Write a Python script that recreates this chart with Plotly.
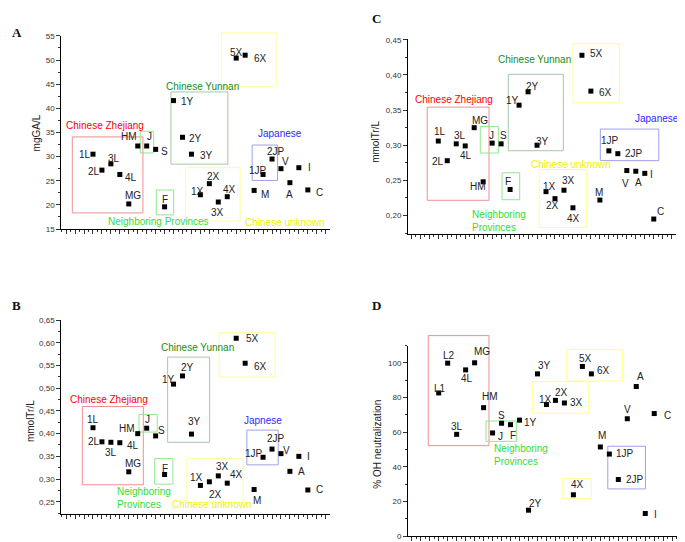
import plotly.graph_objects as go

# ---------------- data ----------------
samples = ["1L", "2L", "3L", "4L", "MG", "HM", "J", "S", "F", "1Y", "2Y", "3Y",
           "1X", "2X", "3X", "4X", "5X", "6X", "M", "1JP", "2JP", "V", "A", "I", "C"]
samples_d = ["L1", "L2", "3L", "4L", "MG", "HM", "J", "S", "F", "1Y", "2Y", "3Y",
             "1X", "2X", "3X", "4X", "5X", "6X", "M", "1JP", "2JP", "V", "A", "I", "C"]

gallic_mg = [30.5, 27.2, 28.5, 26.3, 20.2, 32.2, 32.2, 31.5, 19.6, 41.6, 34.0, 30.5,
             22.1, 24.4, 20.6, 21.7, 50.4, 51.0, 23.0, 26.3, 29.5, 27.5, 24.6, 27.7, 23.1]
trolox_b = [0.413, 0.382, 0.381, 0.380, 0.316, 0.400, 0.412, 0.395, 0.310, 0.509, 0.527, 0.399,
            0.286, 0.294, 0.307, 0.291, 0.610, 0.555, 0.277, 0.348, 0.366, 0.356, 0.317, 0.350, 0.276]
trolox_c = [0.306, 0.278, 0.302, 0.299, 0.325, 0.248, 0.303, 0.302, 0.237, 0.357, 0.376, 0.300,
            0.234, 0.224, 0.236, 0.211, 0.428, 0.377, 0.222, 0.292, 0.288, 0.264, 0.263, 0.260, 0.195]
oh_neutral = [82.7, 99.9, 58.8, 96.0, 100.1, 74.2, 59.6, 65.2, 64.4, 67.0, 15.0, 93.7,
              76.0, 78.4, 76.9, 23.9, 98.0, 93.7, 51.5, 47.4, 32.7, 67.8, 86.4, 13.1, 70.8]

idx = list(range(1, len(samples) + 1))

# ---------------- styling ----------------
FONT = "Liberation Sans, Arial, sans-serif"
C_RED, C_DKGREEN, C_GREEN, C_YELLOW, C_BLUE = "#ff0000", "#1a8a1a", "#33dd33", "#f2f200", "#2a2aff"
B_RED, B_DKGREEN, B_GREEN, B_YELLOW, B_BLUE = "#f09090", "#a6c8a6", "#90e890", "#ffff90", "#a0a0ea"

# panel: axes suffix, x domain, y domain, x range, y range, dtick, minor, format
panels = {
    "A": dict(ax="", xd=[0.0778, 0.4701], yd=[0.5928, 0.9552], xr=[-2.54, 27.48], yr=[15, 55],
              dt=5, mdt=2.5, fmt="d", vals=gallic_mg, names=samples),
    "C": dict(ax="2", xd=[0.5839, 0.9752], yd=[0.5836, 0.9502], xr=[-2.376, 27.48], yr=[0.1738, 0.4518],
              dt=0.05, mdt=0.025, fmt=".2f", vals=trolox_c, names=samples),
    "B": dict(ax="3", xd=[0.0778, 0.4701], yd=[0.0585, 0.4220], xr=[-2.54, 27.48], yr=[0.2235, 0.65],
              dt=0.05, mdt=0.025, fmt=".2f", vals=trolox_b, names=samples),
    "D": dict(ax="4", xd=[0.5839, 0.9762], yd=[0.0166, 0.3740], xr=[-2.42, 27.5], yr=[0, 110],
              dt=20, mdt=10, fmt="d", vals=oh_neutral, names=samples_d),
}

# label offsets (px right, px down) of each point label
offsets = {
    "A": [(-7.5, 0), (-8, 1), (3, -5.5), (11, 3), (4.7, -8.4), (-9, -9.4), (2.6, -9), (9, 2),
          (0.7, -7.4), (13.7, 1.4), (13.3, 1), (15, 1.7), (-3, -3.3), (3.7, -6.7), (-1, 10.7),
          (2.7, -7.3), (0.7, -6), (15.7, 3), (11, 4.3), (-4.7, -4), (3.7, -8), (4.7, -7),
          (0, 12), (11, 0), (11.7, 2.7)],
    "C": [(1.4, -9.3), (-9.4, 0.7), (3.3, -8), (0.6, 9.3), (5.4, -7), (-5.3, 4.7), (-1, -8),
          (2.6, -8.4), (-2.4, -7.7), (-6.4, -4.4), (4, -5), (5, -4), (3.4, -5.3), (-2.6, 7),
          (4.7, -9.4), (1, 10.6), (14.7, -1.3), (14.7, 1.6), (-1, -7.3), (1, -10.3), (16.6, 0),
          (-1, 12.7), (2.3, 11.7), (7, 1.3), (6.6, -7.3)],
    "B": [(-0.3, -8.3), (-8, 0), (0, 10), (13.3, 2.7), (4.3, -8.4), (-11, -5.4), (1, -8.3),
          (6.3, -5.3), (0.4, -6.3), (-5.3, -4.6), (4.7, -8.3), (3.3, -12.6), (-3.6, -7.6),
          (5.7, 12.3), (3.7, -9.4), (9, -8.3), (16.3, 0), (15.7, 3.7), (3, 10.6), (-9, -3.7),
          (4, -10.4), (5.7, -3.6), (11.3, 0), (9.7, 0), (11.3, 0)],
    "D": [(1.3, -4.6), (1.3, -8), (0, -8.3), (1.6, 8.6), (7.3, -11), (6.3, -10.7), (7.6, 4),
          (0, -8), (2.6, 11), (10.6, 2.4), (7, -6.6), (7.4, -8.7), (-0.6, -4.6), (6, -7.7),
          (12.4, 0), (4, -10), (3, -8.3), (11.7, -3), (1.7, -11.3), (15.7, -0.6), (17, 0),
          (0.3, -9.3), (4.3, -9.7), (10, 1.3), (13.3, 2.3)],
}

# group boxes in data units: (x0, x1, y0, y1, colour)
boxes = {
    "A": [(-1.31, 6.58, 18.34, 34.08, B_RED), (6.28, 7.78, 30.76, 35.24, B_GREEN),
          (8.07, 10.01, 17.93, 23.09, B_GREEN), (9.71, 16.07, 28.44, 43.39, B_DKGREEN),
          (11.35, 17.44, 16.63, 27.71, B_YELLOW), (15.37, 21.46, 44.47, 55.61, B_YELLOW),
          (18.78, 21.62, 25.06, 32.39, B_BLUE)],
    "B": [(-0.19, 6.62, 0.2874, 0.4597, B_RED), (6.14, 8.18, 0.4035, 0.4424, B_GREEN),
          (7.89, 9.93, 0.2889, 0.3451, B_GREEN), (9.34, 14.03, 0.381, 0.5685, B_DKGREEN),
          (15.10, 21.35, 0.5246, 0.6219, B_YELLOW), (11.49, 17.78, 0.2491, 0.3451, B_YELLOW),
          (18.19, 21.69, 0.3313, 0.4078, B_BLUE)],
    "C": [(-0.23, 6.65, 0.2217, 0.3542, B_RED), (5.68, 7.69, 0.2889, 0.3267, B_GREEN),
          (8.10, 10.07, 0.2225, 0.2609, B_GREEN), (8.80, 14.93, 0.2922, 0.401, B_DKGREEN),
          (16.01, 21.17, 0.3604, 0.4444, B_YELLOW), (12.25, 17.49, 0.1829, 0.2655, B_YELLOW),
          (19.05, 25.56, 0.2781, 0.323, B_BLUE)],
    "D": [(-0.16, 6.60, 52.27, 115.8, B_RED), (6.27, 9.65, 54.73, 66.5, B_GREEN),
          (11.43, 17.71, 70.98, 89.24, B_YELLOW), (15.26, 21.46, 89.63, 107.7, B_YELLOW),
          (14.82, 18.0, 21.68, 33.22, B_YELLOW), (19.83, 24.02, 27.28, 51.93, B_BLUE)],
}

# group captions: (text, x, y, colour, anchor)
captions = {
    "A": [("Chinese Zhejiang", 2.34, 36.38, C_RED, "center"),
          ("Chinese Yunnan", 13.28, 44.61, C_DKGREEN, "center"),
          ("Japanese", 21.88, 34.84, C_BLUE, "center"),
          ("Neighboring Provinces", 8.33, 16.63, C_GREEN, "center"),
          ("Chinese unknown", 22.47, 16.36, C_YELLOW, "center")],
    "B": [("Chinese Zhejiang", 2.82, 0.4755, C_RED, "center"),
          ("Chinese Yunnan", 12.72, 0.590, C_DKGREEN, "center"),
          ("Japnese", 19.98, 0.4279, C_BLUE, "center"),
          ("Neighboring<br>Provinces", 3.49, 0.2589, C_GREEN, "left"),
          ("Chinese unknown", 14.25, 0.2435, C_YELLOW, "center")],
    "C": [("Chinese Zhejiang", 2.75, 0.365, C_RED, "center"),
          ("Chinese Yunnan", 11.77, 0.4214, C_DKGREEN, "center"),
          ("Japanese", 25.33, 0.338, C_BLUE, "center"),
          ("Chinese unknown", 15.79, 0.273, C_YELLOW, "center"),
          ("Neighboring<br>Provinces", 4.57, 0.1927, C_GREEN, "left")],
    "D": [("Chinese Zhejiang", 3.82, 120.05, C_RED, "center"),
          ("Chinese unknown", 19.27, 113.55, C_YELLOW, "center"),
          ("Neighboring<br>Provinces", 6.97, 46.58, C_GREEN, "left"),
          ("Japanese", 29.05, 41.29, C_BLUE, "right")],
}

fig = go.Figure()
shapes, annots = [], []
layout = dict(width=685, height=542, margin=dict(l=0, r=0, t=0, b=0),
              paper_bgcolor="white", plot_bgcolor="white", showlegend=False,
              separators=",.", font=dict(family=FONT, size=10, color="#222"))

for key, p in panels.items():
    ax = p["ax"]
    xname, yname = "x" + ax, "y" + ax
    fig.add_trace(go.Scatter(x=idx, y=p["vals"], mode="markers", xaxis=xname, yaxis=yname,
                             marker=dict(symbol="square", size=5, color="black"),
                             cliponaxis=False, hoverinfo="skip"))
    layout["xaxis" + ax] = dict(domain=p["xd"], range=p["xr"], anchor=yname, showgrid=False,
                                zeroline=False, showline=True, linecolor="black", linewidth=1,
                                ticks="outside", ticklen=4, tickwidth=1, tickcolor="#333",
                                tick0=0, dtick=1, showticklabels=False,
                                minor=dict(ticks="outside", ticklen=2, dtick=0.5, tickcolor="#333"))
    layout["yaxis" + ax] = dict(domain=p["yd"], range=p["yr"], anchor=xname, showgrid=False,
                                zeroline=False, showline=True, linecolor="black", linewidth=1,
                                ticks="outside", ticklen=4, tickwidth=1, tickcolor="#333",
                                dtick=p["dt"], tick0=0, tickformat=p["fmt"],
                                tickfont=dict(size=8, color="#333", family=FONT),
                                minor=dict(ticks="outside", ticklen=2, dtick=p["mdt"], tickcolor="#333"))
    # boxes (domain-referenced so they are not clipped)
    x0r, x1r = p["xr"]
    y0r, y1r = p["yr"]
    for (bx0, bx1, by0, by1, col) in boxes[key]:
        shapes.append(dict(type="rect", xref=xname + " domain", yref=yname + " domain",
                           x0=(bx0 - x0r) / (x1r - x0r), x1=(bx1 - x0r) / (x1r - x0r),
                           y0=(by0 - y0r) / (y1r - y0r), y1=(by1 - y0r) / (y1r - y0r),
                           line=dict(color=col, width=1), fillcolor="rgba(0,0,0,0)", layer="below"))
    # point labels
    for name, xi, yv, (dx, dy) in zip(p["names"], idx, p["vals"], offsets[key]):
        annots.append(dict(x=xi, y=yv, xref=xname, yref=yname, text=name, showarrow=False,
                           xshift=dx, yshift=-dy, xanchor="center", yanchor="middle",
                           font=dict(size=10, color="#222", family=FONT)))
    for (txt, cx, cy, col, anc) in captions[key]:
        annots.append(dict(x=cx, y=cy, xref=xname, yref=yname, text=txt, showarrow=False,
                           xanchor=anc, yanchor="middle", align="left",
                           font=dict(size=10, color=col, family=FONT)))

# axis titles and panel letters (paper px converted to fractions)
W, H = 685.0, 542.0
titles = [("mgGA/L", 28, 123.5), ("mmolTr/L", 368, 132), ("mmolTr/L", 22, 416),
          ("% OH neutralization", 370, 440)]
for txt, px, py in titles:
    annots.append(dict(x=px / W, y=1 - py / H, xref="paper", yref="paper", text=txt,
                       showarrow=False, textangle=-90, xanchor="center", yanchor="middle",
                       font=dict(size=10, color="#222", family=FONT)))
letters = [("A", 8.5, 21), ("C", 368, 6.5), ("B", 8.5, 298.3), ("D", 368.5, 298.3)]
for txt, px, py in letters:
    annots.append(dict(x=px / W, y=1 - py / H, xref="paper", yref="paper", text="<b>" + txt + "</b>",
                       showarrow=False, xanchor="center", yanchor="middle",
                       font=dict(size=13, color="#111", family="Liberation Serif, Times New Roman, serif")))

layout["shapes"] = shapes
layout["annotations"] = annots
fig.update_layout(**layout)
fig.write_html("out.html")
